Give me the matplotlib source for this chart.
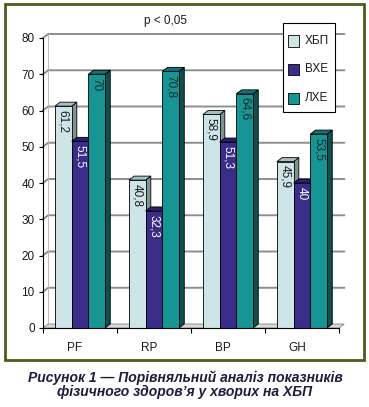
import matplotlib.pyplot as plt
import matplotlib.patches as patches
from matplotlib.patches import Polygon
from matplotlib.transforms import ScaledTranslation

plt.rcParams['font.family'] = ['Liberation Sans', 'DejaVu Sans']

# Data
categories = ['PF', 'RP', 'BP', 'GH']
series_names = ['ХБП', 'ВХЕ', 'ЛХЕ']
hbp = [61.2, 40.8, 58.9, 45.9]
vhe = [51.5, 32.3, 51.3, 40]
lhe = [70, 70.8, 64.6, 53.5]
series = [hbp, vhe, lhe]

# Colors: front, side, top, label color
front_colors = ['#cde5e7', '#3a2d8a', '#179595']
side_colors = ['#7f9393', '#1d1650', '#0e4f4f']
top_colors = ['#a8bebe', '#2a2070', '#127474']
label_colors = ['#1a1a1a', 'white', '#1a2a2a']

W, H = 369, 407
fig = plt.figure(figsize=(W / 100, H / 100), dpi=100)

# axes: x=-0.5 -> px 43, x=3.6 -> px 346 ; y=0 -> px 328, y=80 -> px 38
ax = fig.add_axes([43 / W, 1 - 328 / H, 303.4 / W, 290 / H])
ax.set_xlim(-0.5, 3.6)
ax.set_ylim(0, 80)
ax.patch.set_alpha(0)

dx = 0.07   # depth in category units
dy = 1.1    # depth in value units
bw = 0.226  # bar width

# back wall gridlines
for y in range(10, 90, 10):
    ax.plot([-0.5, -0.5 + dx, 3.5 + dx], [y, y + dy, y + dy], color='#8e8e8e', lw=1.4, zorder=1, clip_on=False)
ax.plot([-0.5 + dx, -0.5 + dx], [dy, 80 + dy], color='#b0b0b0', lw=0.6, zorder=1, clip_on=False)

# floor
floor = Polygon([(-0.5, 0), (3.5, 0), (3.5 + dx, dy), (-0.5 + dx, dy)], closed=True,
                facecolor='#d9d9d9', edgecolor='#808080', lw=0.6, zorder=1.5, clip_on=False)
ax.add_patch(floor)

# bars with 3D faces
z = 2
for ci in range(len(categories)):
    for si, vals in enumerate(series):
        h = vals[ci]
        x0 = ci + (si - 1) * bw - bw / 2
        x1 = x0 + bw
        side = Polygon([(x1, 0), (x1 + dx, dy), (x1 + dx, h + dy), (x1, h)], closed=True,
                       facecolor=side_colors[si], edgecolor='black', lw=0.6, zorder=z, clip_on=False)
        top = Polygon([(x0, h), (x0 + dx, h + dy), (x1 + dx, h + dy), (x1, h)], closed=True,
                      facecolor=top_colors[si], edgecolor='black', lw=0.6, zorder=z, clip_on=False)
        ax.add_patch(side)
        ax.add_patch(top)
        ax.bar(x0, h, width=bw, align='edge', color=front_colors[si], edgecolor='black',
               lw=0.6, zorder=z + 0.5)
        lbl = f"{h:g}".replace('.', ',')
        ax.text(x0 + bw / 2, h - 1.0, lbl, rotation=-90, ha='center', va='top',
                fontsize=8.5, color=label_colors[si], zorder=z + 1)
        z += 2

# axes styling
for s in ['top', 'right']:
    ax.spines[s].set_visible(False)
ax.spines['bottom'].set_bounds(-0.5, 3.5)
ax.spines['left'].set_linewidth(0.8)
ax.spines['bottom'].set_linewidth(0.8)
ax.spines['bottom'].set_zorder(50)
ax.set_yticks(range(0, 90, 10))
ax.tick_params(axis='y', direction='out', length=3, width=0.8, pad=3, labelsize=8.5, labelcolor='#1a1a1a')
ax.set_xticks(range(len(categories)))
ax.set_xticklabels(categories)
ax.set_xticks([-0.5, 0.5, 1.5, 2.5, 3.5], minor=True)
ax.tick_params(axis='x', which='major', length=0, pad=10, labelsize=8.5, labelcolor='#1a1a1a')
ax.tick_params(axis='x', which='minor', direction='out', length=3.5, width=0.8)
shift = ScaledTranslation(-5 / 100, 0, fig.dpi_scale_trans)
for t in ax.get_xticklabels():
    t.set_transform(t.get_transform() + shift)

# title
fig.text(165 / W, 1 - 21 / H, 'p < 0,05', ha='center', va='center', fontsize=8.5, color='#1a1a1a')

# legend (drawn by hand to match the box)
legbox = patches.Rectangle((283 / W, 1 - 112 / H), 52 / W, 89 / H, transform=fig.transFigure,
                           facecolor='white', edgecolor='black', lw=0.8, zorder=100)
fig.patches.append(legbox)
for i, name in enumerate(series_names):
    yc = [41, 69.5, 98][i]
    sq = patches.Rectangle((288 / W, 1 - (yc + 5.5) / H), 11 / W, 11 / H, transform=fig.transFigure,
                           facecolor=front_colors[i], edgecolor='black', lw=0.6, zorder=101)
    fig.patches.append(sq)
    fig.text(305 / W, 1 - yc / H, name, ha='left', va='center', fontsize=8.5, color='#1a1a1a', zorder=102)

# green frame
frame = patches.Rectangle((5 / W, 1 - 360 / H), 359 / W, 356 / H, transform=fig.transFigure,
                          fill=False, edgecolor='#4b5e16', lw=2)
fig.patches.append(frame)

# caption
fig.text(185 / W, 1 - 378 / H, 'Рисунок 1 — Порівняльний аналіз показників', ha='center', va='center',
         fontsize=10, fontweight='bold', fontstyle='italic', color='#1c1c3c')
fig.text(185 / W, 1 - 392 / H, 'фізичного здоров’я у хворих на ХБП', ha='center', va='center',
         fontsize=10, fontweight='bold', fontstyle='italic', color='#1c1c3c')

fig.savefig('out.png', dpi=100, facecolor='white')
